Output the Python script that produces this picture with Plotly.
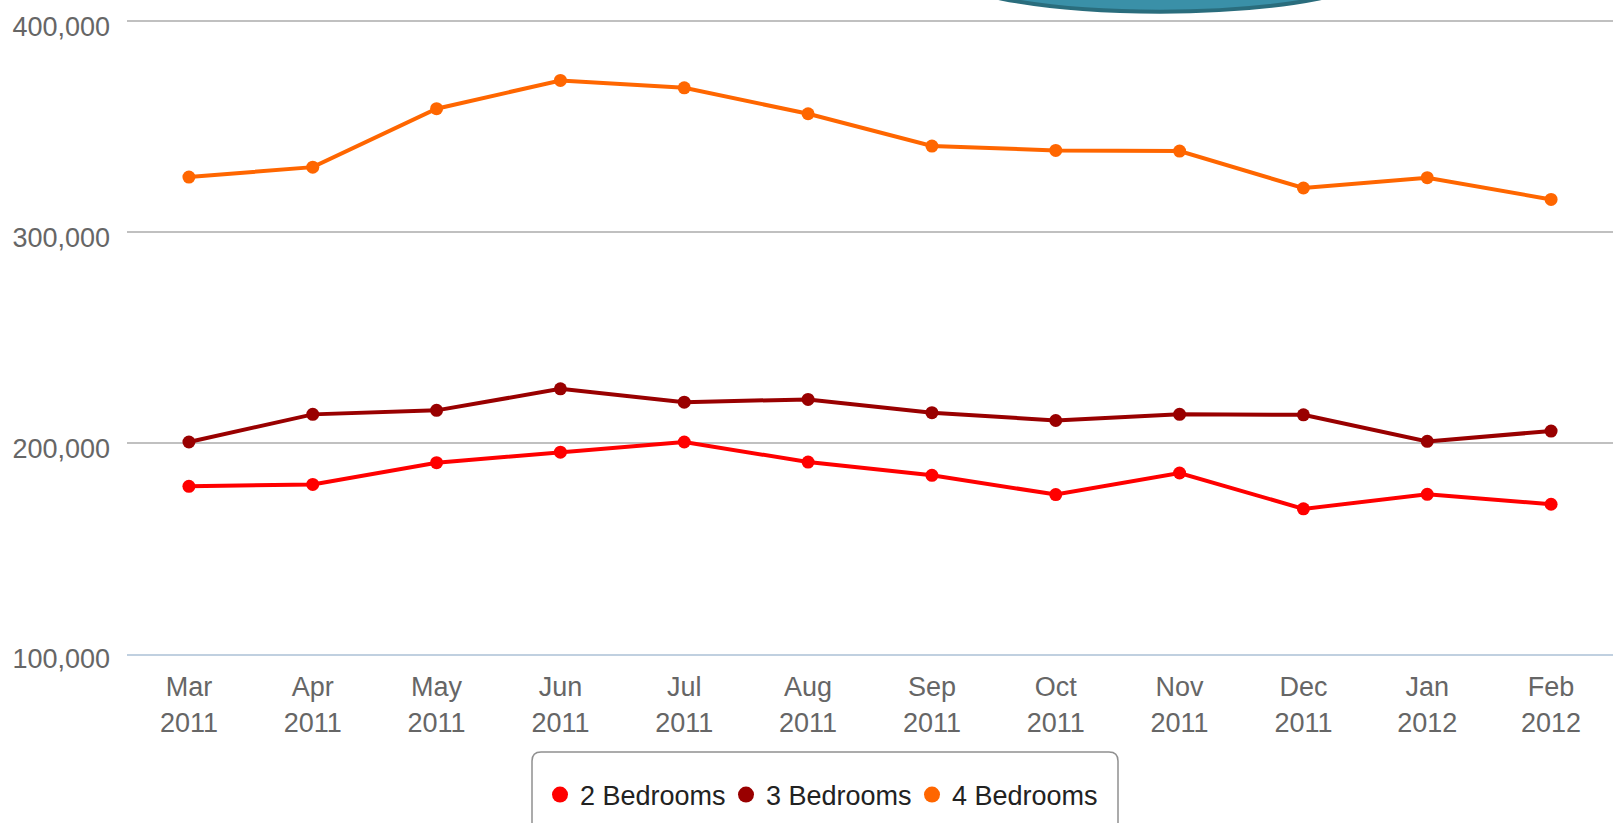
import plotly.graph_objects as go

months = ["Mar<br>2011", "Apr<br>2011", "May<br>2011", "Jun<br>2011", "Jul<br>2011", "Aug<br>2011",
          "Sep<br>2011", "Oct<br>2011", "Nov<br>2011", "Dec<br>2011", "Jan<br>2012", "Feb<br>2012"]
bed2 = [179500, 180400, 190700, 195700, 200500, 191000, 184700, 175600, 185800, 168800, 175700, 171000]
bed3 = [200500, 213600, 215500, 225700, 219400, 220700, 214400, 210700, 213600, 213400, 200800, 205700]
bed4 = [326100, 330800, 358500, 371900, 368400, 356100, 340800, 338700, 338400, 320900, 325800, 315500]
series_names = ["2 Bedrooms", "3 Bedrooms", "4 Bedrooms"]
series_colors = ["#FF0000", "#990000", "#FF6600"]
y_ticks = [100000, 200000, 300000, 400000]

W, H = 1618, 823
Y_LO, Y_HI = 100000, 401500
PX_PER_UNIT = (654 - 21.5) / 300000.0
T = 21.5 - (Y_HI - 400000) * PX_PER_UNIT
L, R, B = 127, 5, H - 654
PW, PH = W - L - R, H - B - T

def px_x(p):
    return (p - L) / PW

def px_y(p):
    return (H - B - p) / PH

FONT = "Liberation Sans, Arial, sans-serif"
FS = 27

fig = go.Figure()
for name, vals, col in zip(series_names, [bed2, bed3, bed4], series_colors):
    fig.add_trace(go.Scatter(
        x=months, y=vals, mode="lines+markers", name=name,
        line=dict(color=col, width=4),
        marker=dict(color=col, size=13),
        showlegend=False,
    ))
for name, col in zip(series_names, series_colors):
    fig.add_trace(go.Scatter(
        x=[None], y=[None], mode="markers", name=name,
        marker=dict(color=col, size=16),
        showlegend=True,
    ))

# legend frame (rounded top corners, bottom cut off by the page edge)
x0, x1 = px_x(532), px_x(1118)
yt, yb = px_y(752), px_y(840)
rx, ry = 9 / PW, 9 / PH
path = (f"M {x0},{yb} L {x0},{yt - ry} Q {x0},{yt} {x0 + rx},{yt} "
        f"L {x1 - rx},{yt} Q {x1},{yt} {x1},{yt - ry} L {x1},{yb}")
shapes = [
    dict(type="path", xref="paper", yref="paper", path=path,
         line=dict(color="#909090", width=1.5), layer="above"),
    # partial teal ellipse decoration at the top
    dict(type="circle", xref="paper", yref="paper",
         x0=px_x(1160 - 225), x1=px_x(1160 + 225), y0=px_y(12), y1=px_y(12 - 90),
         fillcolor="#3a90a8", line=dict(color="#2a6d7d", width=4), layer="above"),
]

fig.update_layout(
    width=W, height=H,
    margin=dict(l=L, r=R, t=T, b=B, autoexpand=False),
    paper_bgcolor="white", plot_bgcolor="white",
    font=dict(family=FONT, size=FS, color="#666666"),
    showlegend=True,
    legend=dict(orientation="h", x=px_x(540), xanchor="left",
                y=px_y(795), yanchor="middle",
                font=dict(family=FONT, size=FS, color="#222222"),
                bgcolor="rgba(0,0,0,0)", itemwidth=30,
                entrywidth=141, entrywidthmode="pixels", itemclick=False),
    shapes=shapes,
    hovermode=False,
)
fig.update_xaxes(
    range=[-0.5, len(months) - 0.5], showgrid=False, automargin=False,
    showline=True, linecolor="#C0D0E0", linewidth=2,
    ticks="", tickfont=dict(family=FONT, size=FS, color="#666666"),
    ticklabelstandoff=8,
    fixedrange=True,
)
fig.update_yaxes(
    range=[Y_LO, Y_HI], tickvals=y_ticks, tickformat=",", automargin=False,
    showgrid=True, gridcolor="#C0C0C0", gridwidth=1.5,
    zeroline=False, showline=False, ticks="",
    tickfont=dict(family=FONT, size=FS, color="#666666"),
    ticklabelstandoff=16, ticklabelshift=5,
    fixedrange=True,
)

fig.write_html("out.html", config={"displayModeBar": False, "staticPlot": True},
               post_script="document.body.style.margin='0';document.body.style.overflow='hidden';")
